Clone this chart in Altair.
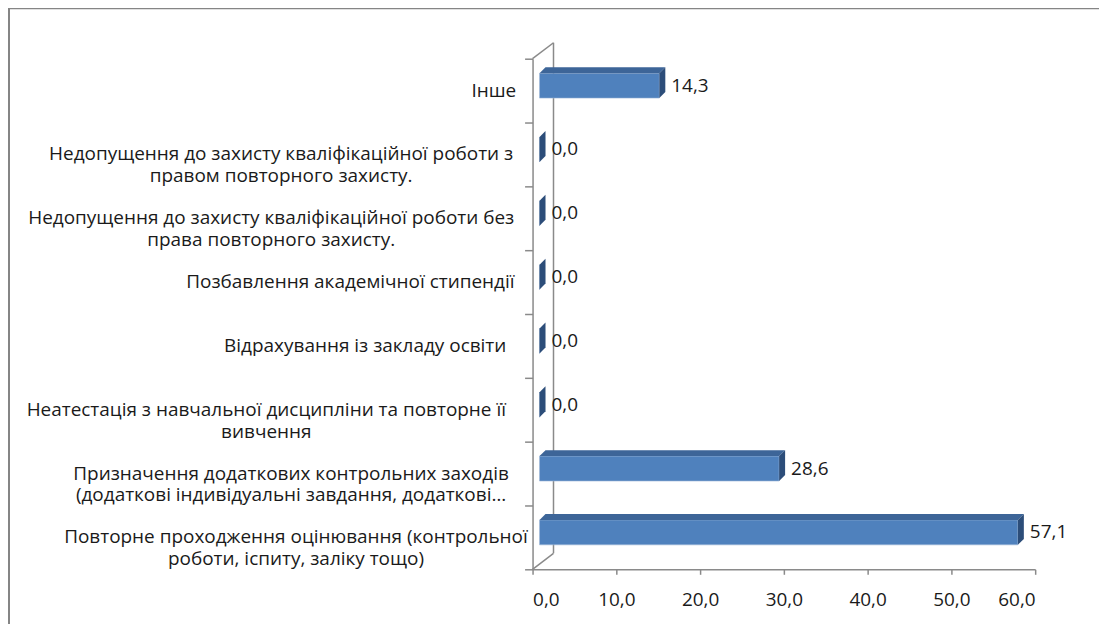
import altair as alt
import pandas as pd

# ---- data (bottom to top) ----
categories = [
    "Повторне проходження оцінювання (контрольної\nроботи, іспиту, заліку тощо)",
    "Призначення додаткових контрольних заходів\n(додаткові індивідуальні завдання, додаткові…",
    "Неатестація з навчальної дисципліни та повторне її\nвивчення",
    "Відрахування із закладу освіти",
    "Позбавлення академічної стипендії",
    "Недопущення до захисту кваліфікаційної роботи без\nправа повторного захисту.",
    "Недопущення до захисту кваліфікаційної роботи з\nправом повторного захисту.",
    "Інше",
]
values = [57.1, 28.6, 0.0, 0.0, 0.0, 0.0, 0.0, 14.3]
x_ticks = [0, 10, 20, 30, 40, 50, 60]

# ---- layout / style constants ----
W, H = 504, 512
XMAX = 60
N = len(categories)
UX = XMAX / W      # data units per pixel (x)
UY = N / H         # data units per pixel (y)
FRONT_DX = 7       # bar front plane shift (px)
DEPTH = 6          # bar depth (px)
FACE_TOP, FACE_BOT = 14.5, 39.5   # front face inside band (px from band top)
WALL_DX, WALL_DY = 21, 16
LABEL_GAP = 19
CW = 9.92          # approx char width for centering multi-line labels
FONT = "Open Sans"
FS = 19
GRAY = "#8a8a8a"
TXT = "#1a1a1a"
FRONT_COL, TOP_COL, SIDE_COL = "#4F81BD", "#3D6598", "#2C4D79"

rows, top_rows, side_rows, lab_rows = [], [], [], []
for i, (cat, v) in enumerate(zip(categories, values)):
    x0 = FRONT_DX * UX
    x1 = v + FRONT_DX * UX
    yt = i + 1 - FACE_TOP * UY
    yb = i + 1 - FACE_BOT * UY
    rows.append({"i": i, "x0": x0, "x1": x1, "yt": yt, "yb": yb,
                 "v": v, "txt": f"{v:.1f}".replace(".", ","),
                 "yc": (yt + yb) / 2})
    top_rows += [
        {"i": i, "y": yt, "xa": x0, "xb": x1},
        {"i": i, "y": yt + DEPTH * UY, "xa": x0 + DEPTH * UX, "xb": x1 + DEPTH * UX},
    ]
    side_rows += [
        {"i": i, "x": x1, "ya": yt, "yb": yb},
        {"i": i, "x": x1 + DEPTH * UX, "ya": yt + DEPTH * UY, "yb": yb + DEPTH * UY},
    ]
    maxlen = max(len(s) for s in cat.split("\n"))
    lab_rows.append({"cat": cat, "y": i + 0.5,
                     "x": -(LABEL_GAP + maxlen * CW / 2) * UX})

bars = pd.DataFrame(rows)
tops = pd.DataFrame(top_rows)
sides = pd.DataFrame(side_rows)
labs = pd.DataFrame(lab_rows)
walls = pd.DataFrame([
    {"x": WALL_DX * UX, "y": WALL_DY * UY, "x2": WALL_DX * UX, "y2": N + WALL_DY * UY},
    {"x": 0, "y": N, "x2": WALL_DX * UX, "y2": N + WALL_DY * UY},
    {"x": 0, "y": 0, "x2": WALL_DX * UX, "y2": WALL_DY * UY},
])

xs = alt.Scale(domain=[0, XMAX], nice=False, zero=False)
ys = alt.Scale(domain=[0, N], nice=False, zero=False)
x_axis = alt.Axis(values=x_ticks, tickSize=5, tickColor=GRAY, tickWidth=1.5,
                  domainColor=GRAY, domainWidth=1.5, grid=False,
                  labelFont=FONT, labelFontSize=FS, labelColor=TXT,
                  labelPadding=16,
                  labelExpr="replace(format(datum.value, '.1f'), '.', ',')")
y_axis = alt.Axis(values=list(range(N + 1)), labels=False, tickSize=8,
                  tickColor=GRAY, tickWidth=1.5, domainColor=GRAY,
                  domainWidth=1.5, grid=False)


def X(f, **kw):
    return alt.X(f, scale=xs, axis=x_axis, title=None, **kw)


def Y(f, **kw):
    return alt.Y(f, scale=ys, axis=y_axis, title=None, **kw)


wall_layer = alt.Chart(walls).mark_rule(color=GRAY, strokeWidth=1.5).encode(
    x=X("x:Q"), y=Y("y:Q"), x2="x2:Q", y2="y2:Q")

front_layer = alt.Chart(bars).mark_rect(
    color=FRONT_COL, stroke="#9fb8d8", strokeWidth=0.6).encode(
    x=X("x0:Q"), x2="x1:Q", y=Y("yt:Q"), y2="yb:Q")

top_layer = alt.Chart(tops).mark_area(orient="horizontal", color=TOP_COL).encode(
    y=Y("y:Q"), x=X("xa:Q", stack=None), x2="xb:Q", detail="i:N")

side_layer = alt.Chart(sides).mark_area(orient="vertical", color=SIDE_COL).encode(
    x=X("x:Q"), y=Y("ya:Q", stack=None), y2="yb:Q", detail="i:N")

value_layer = alt.Chart(bars).mark_text(
    font=FONT, fontSize=FS, align="left", baseline="middle", color=TXT,
    dx=FRONT_DX + DEPTH + 6).encode(
    x=X("v:Q"), y=Y("yc:Q"), text="txt:N")

cat_layer = alt.Chart(labs).mark_text(
    font=FONT, fontSize=FS, align="center", baseline="middle", color=TXT,
    lineBreak="\n", lineHeight=22).encode(
    x=X("x:Q"), y=Y("y:Q"), text="cat:N")

frame = alt.Chart(pd.DataFrame({"k": [0]})).mark_rule(color="#858585", strokeWidth=2)
frame_left = frame.encode(x=alt.value(-525), y=alt.value(-50), y2=alt.value(H + 60))
frame_top = frame.encode(x=alt.value(-526), x2=alt.value(W + 80), y=alt.value(-50.5))

chart = alt.layer(
    frame_left, frame_top, wall_layer, front_layer, top_layer, side_layer,
    value_layer, cat_layer
).properties(
    width=W, height=H,
    padding={"left": 526, "top": 50, "right": 64, "bottom": 54},
    autosize="none",
    background="white",
).configure_view(strokeWidth=0, stroke="transparent")

chart.save("out.html", embed_options={"renderer": "svg", "actions": False})
